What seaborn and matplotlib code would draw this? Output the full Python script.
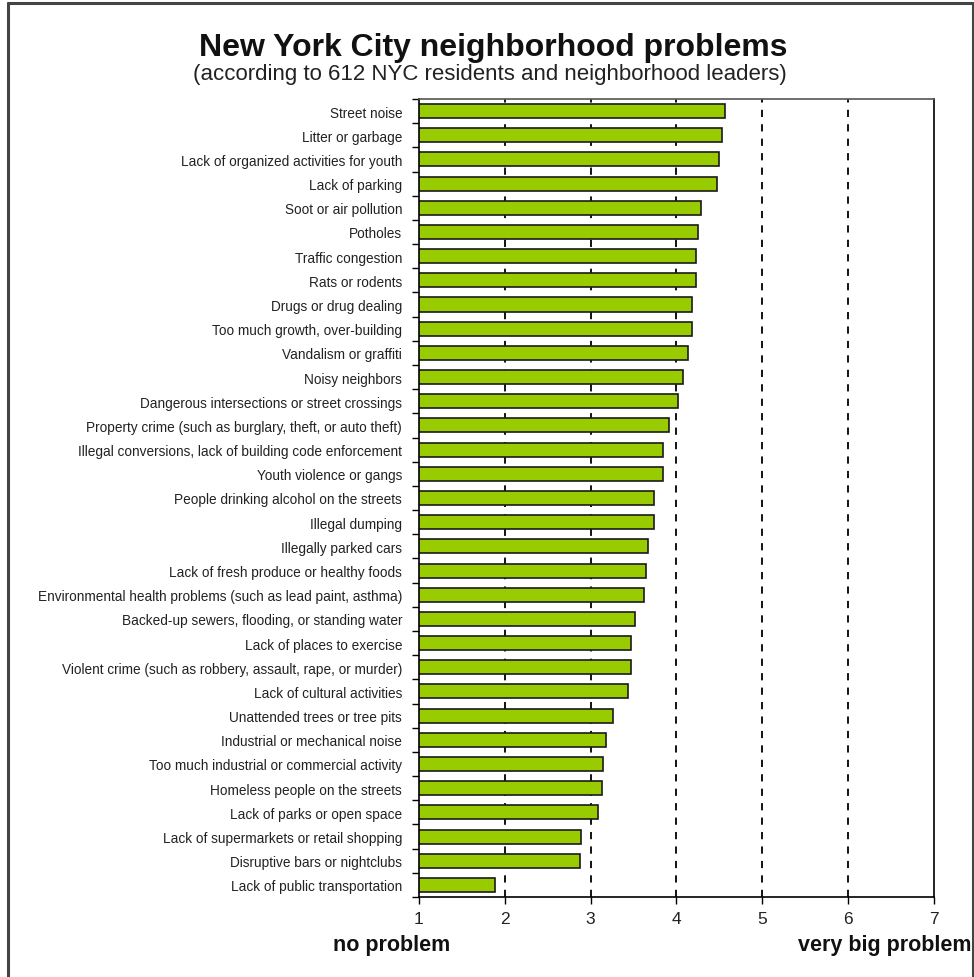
import matplotlib
matplotlib.use("Agg")
import matplotlib.pyplot as plt
import seaborn as sns
import pandas as pd
from matplotlib.lines import Line2D

problems = [
    "Street noise",
    "Litter or garbage",
    "Lack of organized activities for youth",
    "Lack of parking",
    "Soot or air pollution",
    "Potholes",
    "Traffic congestion",
    "Rats or rodents",
    "Drugs or drug dealing",
    "Too much growth, over-building",
    "Vandalism or graffiti",
    "Noisy neighbors",
    "Dangerous intersections or street crossings",
    "Property crime (such as burglary, theft, or auto theft)",
    "Illegal conversions, lack of building code enforcement",
    "Youth violence or gangs",
    "People drinking alcohol on the streets",
    "Illegal dumping",
    "Illegally parked cars",
    "Lack of fresh produce or healthy foods",
    "Environmental health problems (such as lead paint, asthma)",
    "Backed-up sewers, flooding, or standing water",
    "Lack of places to exercise",
    "Violent crime (such as robbery, assault, rape, or murder)",
    "Lack of cultural activities",
    "Unattended trees or tree pits",
    "Industrial or mechanical noise",
    "Too much industrial or commercial activity",
    "Homeless people on the streets",
    "Lack of parks or open space",
    "Lack of supermarkets or retail shopping",
    "Disruptive bars or nightclubs",
    "Lack of public transportation",
]
scores = [4.57, 4.53, 4.50, 4.47, 4.29, 4.25, 4.23, 4.23, 4.18, 4.18, 4.13,
          4.08, 4.02, 3.91, 3.84, 3.84, 3.74, 3.74, 3.67, 3.64, 3.62, 3.52,
          3.47, 3.47, 3.44, 3.26, 3.18, 3.14, 3.13, 3.09, 2.89, 2.88, 1.89]
x_ticks = [1, 2, 3, 4, 5, 6, 7]
grid_at = [2, 3, 4, 5, 6]

df = pd.DataFrame({"problem": problems, "score": scores})

sns.set_style("white")
plt.rcParams["font.family"] = ["Liberation Sans", "DejaVu Sans"]

fig = plt.figure(figsize=(9.74, 9.78), dpi=100)
ax = fig.add_axes([0.430, 0.0818, 0.529, 0.816])

for g in grid_at:
    ax.axvline(g, color="black", lw=1.3, ls=(0, (4, 4)), zorder=0.5)

sns.barplot(data=df, x="score", y="problem", orient="h", color="#99CC00",
            saturation=1, width=0.58, edgecolor="#1a1a1a", linewidth=1.2,
            ax=ax)
for p in ax.patches:
    p.set_zorder(2)

ax.set_xlim(1, 7)
ax.set_ylim(len(problems) - 0.5, -0.5)
ax.set_xticks(x_ticks)
ax.set_xticklabels([str(t) for t in x_ticks], fontsize=12.5, color="#222222")
ax.tick_params(axis="x", direction="out", length=5, width=1, pad=5,
               bottom=True, color="black")
ax.set_yticks(range(len(problems)))
ax.set_yticklabels(problems, fontsize=9.8, color="#222222")
ax.tick_params(axis="y", which="major", length=0, pad=12)
ax.set_yticks([i + 0.5 for i in range(-1, len(problems))], minor=True)
ax.tick_params(axis="y", which="minor", direction="out", length=5, width=1,
               left=True, color="black")
ax.set_xlabel("")
ax.set_ylabel("")
for s in ax.spines.values():
    s.set_visible(True)
    s.set_color("black")
    s.set_linewidth(1.2)
ax.spines["top"].set_color("#555555")

fig.text(0.506, 0.951, "New York City neighborhood problems", ha="center",
         va="center", fontsize=23, fontweight="bold", color="#111111")
fig.text(0.503, 0.924, "(according to 612 NYC residents and neighborhood leaders)",
         ha="center", va="center", fontsize=16, color="#222222")
fig.text(0.402, 0.033, "no problem", ha="center", va="center", fontsize=15.5,
         fontweight="bold", color="#111111")
fig.text(0.997, 0.033, "very big problem", ha="right", va="center",
         fontsize=15.5, fontweight="bold", color="#111111")

border = dict(color="#444444", lw=2.2, transform=fig.transFigure)
fig.add_artist(Line2D([0.008, 0.008], [0.0, 0.996], **border))
fig.add_artist(Line2D([0.008, 0.999], [0.996, 0.996], **border))
fig.add_artist(Line2D([0.999, 0.999], [0.0, 0.996], **border))

fig.savefig("out.png", dpi=100, facecolor="white")
